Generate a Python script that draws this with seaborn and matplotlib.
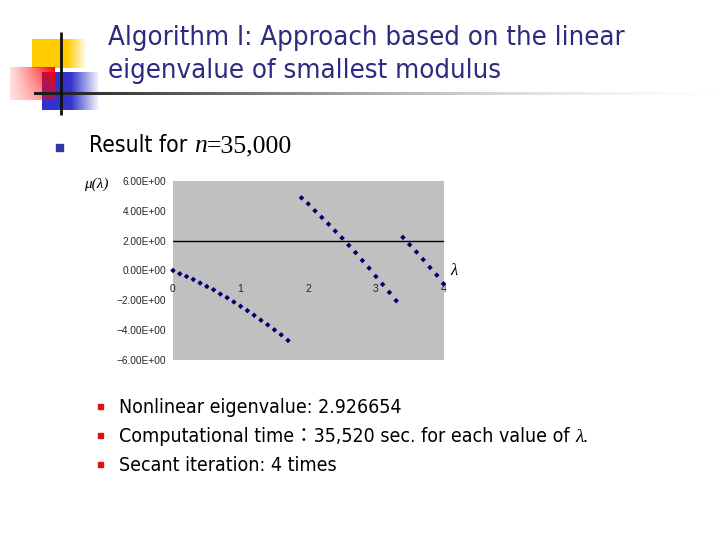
import numpy as np
import pandas as pd
import matplotlib
matplotlib.use("Agg")
import matplotlib.pyplot as plt
import seaborn as sns

# ---------------- data ----------------
lam_seg1 = [0.0, 0.1, 0.2, 0.3, 0.4, 0.5, 0.6, 0.7, 0.8, 0.9, 1.0, 1.1, 1.2, 1.3, 1.4, 1.5, 1.6, 1.7]
mu_seg1 = [0.00, -0.22, -0.40, -0.60, -0.84, -1.07, -1.29, -1.58, -1.82, -2.11, -2.40, -2.69,
           -3.00, -3.33, -3.64, -3.98, -4.31, -4.69]
lam_seg2 = [1.9, 2.0, 2.1, 2.2, 2.3, 2.4, 2.5, 2.6, 2.7, 2.8, 2.9, 3.0, 3.1, 3.2, 3.3]
mu_seg2 = [4.87, 4.47, 4.00, 3.56, 3.11, 2.64, 2.18, 1.69, 1.20, 0.67, 0.16, -0.40, -0.93, -1.47, -2.02]
lam_seg3 = [3.4, 3.5, 3.6, 3.7, 3.8, 3.9, 4.0]
mu_seg3 = [2.22, 1.73, 1.24, 0.73, 0.20, -0.31, -0.89]

x_ticks = [0, 1, 2, 3, 4]
x_tick_labels = ["0", "1", "2", "3", "4"]
y_ticks = [6, 4, 2, 0, -2, -4, -6]
y_tick_labels = ["6.00E+00", "4.00E+00", "2.00E+00", "0.00E+00",
                 "\u22122.00E+00", "\u22124.00E+00", "\u22126.00E+00"]
axis_line_value = 2.0

title_lines = ["Algorithm I: Approach based on the linear", "eigenvalue of smallest modulus"]
bullets = ["Nonlinear eigenvalue: 2.926654",
           "Computational time\uff1a35,520 sec. for each value of ",
           "Secant iteration: 4 times"]

df = pd.concat([
    pd.DataFrame({"lam": lam_seg1, "mu": mu_seg1, "seg": "a"}),
    pd.DataFrame({"lam": lam_seg2, "mu": mu_seg2, "seg": "b"}),
    pd.DataFrame({"lam": lam_seg3, "mu": mu_seg3, "seg": "c"}),
])

sns.set_theme(style="white")
plt.rcParams["font.family"] = ["DejaVu Sans", "Noto Sans CJK JP"]

W, H = 720, 540
fig = plt.figure(figsize=(7.2, 5.4), dpi=100)
fig.patch.set_facecolor("white")

# background axes in pixel coordinates
bg = fig.add_axes([0, 0, 1, 1])
bg.set_xlim(0, W)
bg.set_ylim(H, 0)
bg.axis("off")
bg.set_zorder(0)


def grad_rect(x0, x1, y0, y1, rgb, alpha_fn):
    nx, ny = 80, 80
    xs = np.linspace(0, 1, nx)
    ys = np.linspace(0, 1, ny)
    X, Y = np.meshgrid(xs, ys)
    img = np.zeros((ny, nx, 4))
    img[..., 0] = rgb[0]
    img[..., 1] = rgb[1]
    img[..., 2] = rgb[2]
    img[..., 3] = np.clip(alpha_fn(X, Y), 0, 1)
    bg.imshow(img, extent=(x0, x1, y1, y0), origin="upper", interpolation="bilinear",
              aspect="auto", zorder=1)


# logo
grad_rect(32, 87, 39, 68, (1.0, 0.8, 0.0),
          lambda X, Y: np.where(X < 0.65, 1.0, 1 - (X - 0.65) / 0.35))
grad_rect(42, 100, 72, 110, (0.2, 0.2, 0.8),
          lambda X, Y: np.where(X < 0.5, 1.0, 1 - (X - 0.5) / 0.5))
grad_rect(10, 55, 67, 100, (1.0, 0.0, 0.0),
          lambda X, Y: 0.12 + 0.88 * X ** 1.1 * (1 - 0.55 * Y))
bg.plot([61, 61], [32, 115], color="#111111", lw=2, zorder=3, solid_capstyle="butt")

# horizontal gradient rule under title
strip = np.ones((1, 300, 4))
t = np.linspace(0, 1, 300)
gray = 0.1 + 0.85 * t
strip[0, :, 0] = gray
strip[0, :, 1] = gray
strip[0, :, 2] = gray
strip[0, :, 3] = 1 - 0.9 * t ** 1.5
bg.imshow(strip, extent=(34, 715, 95, 92), aspect="auto", interpolation="bilinear", zorder=2)

title_color = "#2b2b80"
for i, line in enumerate(title_lines):
    bg.text(108, 38 + 33 * i, line, fontsize=19.7, color=title_color, va="center", ha="left",
            family="DejaVu Sans", fontstretch="condensed", zorder=4)

renderer = fig.canvas.get_renderer()


def runs(x, y, parts):
    for txt, kw in parts:
        tt = bg.text(x, y, txt, va="baseline", ha="left", zorder=4, **kw)
        bb = tt.get_window_extent(renderer)
        x += bb.width


# first level bullet
bg.add_patch(plt.Rectangle((56, 144), 7, 7, color="#3535a0", zorder=4))
runs(89, 152, [("Result for ", dict(fontsize=16.5, color="black", family="DejaVu Sans",
                                    fontstretch="condensed")),
               ("n", dict(fontsize=18.5, color="black", family="Liberation Serif", style="italic")),
               ("=35,000", dict(fontsize=18.5, color="black", family="Liberation Serif"))])

# second level bullets
for i, s in enumerate(bullets):
    yb = 413 + 29 * i
    bg.add_patch(plt.Rectangle((98, yb - 9), 5, 5, color="#dd1111", zorder=4))
    parts = [(s, dict(fontsize=14, color="black", family=["DejaVu Sans", "Noto Sans CJK JP"],
                      fontstretch="condensed"))]
    if i == 1:
        parts.append(("\u03bb.", dict(fontsize=14, color="black", family="Liberation Serif", style="italic")))
    runs(119, yb, parts)

# axis labels for the chart
runs(84, 188, [("\u03bc(\u03bb)", dict(fontsize=11, color="black", family="Liberation Serif", style="italic"))])
runs(450, 275, [("\u03bb", dict(fontsize=12, color="black", family="Liberation Serif", style="italic"))])

# ---------------- chart ----------------
left, right, top, bottom = 173.0, 443.5, 181.0, 360.0
ax = fig.add_axes([left / W, 1 - bottom / H, (right - left) / W, (bottom - top) / H])
ax.set_zorder(5)
ax.set_facecolor("#c0c0c0")
ax.axhline(axis_line_value, color="black", lw=1.0, zorder=2)
sns.scatterplot(data=df, x="lam", y="mu", hue="seg", palette=["#000070"] * 3,
                marker="D", s=8, linewidth=0, legend=False, ax=ax, zorder=3, clip_on=False)
ax.set_xlim(0, 4)
ax.set_ylim(-6, 6)
ax.set_xlabel("")
ax.set_ylabel("")
for sp in ax.spines.values():
    sp.set_visible(False)
ax.set_yticks(y_ticks)
ax.set_yticklabels(y_tick_labels, fontsize=7.3, family="Liberation Sans")
ax.set_xticks(x_ticks)
ax.set_xticklabels(x_tick_labels, fontsize=7.5, family="Liberation Sans")
ax.tick_params(axis="y", length=0, pad=5)
ax.tick_params(axis="x", length=0, pad=-55)
ax.grid(False)

fig.savefig("out.png", dpi=100, facecolor="white")
